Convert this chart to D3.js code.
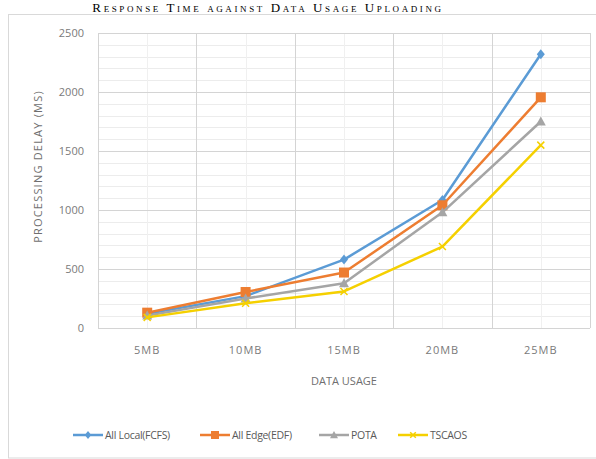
<!DOCTYPE html>
<html>
<head>
<meta charset="utf-8">
<script src="https://cdn.jsdelivr.net/npm/d3@7"></script>
<style>
  html, body { margin: 0; padding: 0; background: #fff; }
  svg { display: block; }
</style>
</head>
<body>
<svg id="chart" width="596" height="459"></svg>
<script>
// Data: processing delay (ms) for each upload size
const categories = ["5MB", "10MB", "15MB", "20MB", "25MB"];
const seriesNames = ["All Local(FCFS)", "All Edge(EDF)", "POTA", "TSCAOS"];
const fcfsValues   = [120, 270, 580, 1085, 2320];
const edfValues    = [130, 305, 470, 1040, 1955];
const potaValues   = [105, 250, 380, 980, 1750];
const tscaosValues = [90, 210, 310, 690, 1550];
const yTicks = [0, 500, 1000, 1500, 2000, 2500];

const colors = ["#5B9BD5", "#ED7D31", "#A5A5A5", "#F5D000"];
const markerTypes = ["diamond", "square", "triangle", "dash"];
const series = [fcfsValues, edfValues, potaValues, tscaosValues].map((v, i) => ({
  name: seriesNames[i], values: v, color: colors[i], marker: markerTypes[i]
}));

const svg = d3.select("#chart");
const plot = { left: 98, right: 590, top: 33, bottom: 328 };

// Chart frame
svg.append("rect")
  .attr("x", 8.5).attr("y", 14.5)
  .attr("width", 600).attr("height", 443.5)
  .attr("fill", "#fff").attr("stroke", "#d9d9d9");

// Title
svg.append("text")
  .attr("x", 268).attr("y", 12)
  .attr("text-anchor", "middle")
  .attr("font-family", "Liberation Serif, Times New Roman, serif")
  .attr("font-size", 13)
  .attr("letter-spacing", 2.6)
  .style("font-variant", "small-caps")
  .attr("fill", "#000")
  .text("Response Time against Data Usage Uploading");

const x = d3.scaleBand().domain(categories).range([plot.left, plot.right]);
const y = d3.scaleLinear().domain([0, 2500]).range([plot.bottom, plot.top]);

// Minor horizontal gridlines every 100
const grid = svg.append("g");
grid.selectAll("line.hminor")
  .data(d3.range(0, 2501, 100).filter(v => v % 500 !== 0))
  .join("line")
  .attr("x1", plot.left).attr("x2", plot.right)
  .attr("y1", d => Math.round(y(d)) + 0.5).attr("y2", d => Math.round(y(d)) + 0.5)
  .attr("stroke", "#ececec").attr("stroke-width", 1);

// Minor vertical gridlines at category centres
grid.selectAll("line.vminor")
  .data(categories)
  .join("line")
  .attr("x1", d => Math.round(x(d) + x.bandwidth() / 2) + 0.5)
  .attr("x2", d => Math.round(x(d) + x.bandwidth() / 2) + 0.5)
  .attr("y1", plot.top).attr("y2", plot.bottom)
  .attr("stroke", "#f0f0f0");

// Major horizontal gridlines
grid.selectAll("line.hmajor")
  .data(yTicks)
  .join("line")
  .attr("x1", plot.left).attr("x2", plot.right)
  .attr("y1", d => Math.round(y(d)) + 0.5).attr("y2", d => Math.round(y(d)) + 0.5)
  .attr("stroke", "#d4d4d4");

// Major vertical gridlines at category boundaries
const bounds = categories.map(c => x(c)).concat([plot.right]);
grid.selectAll("line.vmajor")
  .data(bounds)
  .join("line")
  .attr("x1", d => Math.round(d) + 0.5).attr("x2", d => Math.round(d) + 0.5)
  .attr("y1", plot.top).attr("y2", plot.bottom)
  .attr("stroke", "#d4d4d4");

// Y axis tick labels
const yAxis = d3.axisLeft(y).tickValues(yTicks).tickFormat(d3.format("d")).tickSize(0).tickPadding(14);
const gy = svg.append("g").attr("transform", `translate(${plot.left},0)`).call(yAxis);
gy.select(".domain").remove();
gy.selectAll("text")
  .attr("font-family", "Open Sans, sans-serif")
  .attr("font-size", 11)
  .attr("fill", "#7a7a7a");

// X axis tick labels
const xAxis = d3.axisBottom(x).tickSize(0).tickPadding(18);
const gx = svg.append("g").attr("transform", `translate(0,${plot.bottom})`).call(xAxis);
gx.select(".domain").remove();
gx.selectAll("text")
  .attr("font-family", "Open Sans, sans-serif")
  .attr("font-size", 11)
  .attr("letter-spacing", 1)
  .attr("fill", "#7a7a7a");

// Axis titles
svg.append("text")
  .attr("transform", `translate(42,${(plot.top + plot.bottom) / 2 - 14}) rotate(-90)`)
  .attr("text-anchor", "middle")
  .attr("font-family", "Open Sans, sans-serif")
  .attr("font-size", 11)
  .attr("letter-spacing", 1.2)
  .attr("fill", "#6f6f6f")
  .text("PROCESSING DELAY (MS)");

svg.append("text")
  .attr("x", 344).attr("y", 385)
  .attr("text-anchor", "middle")
  .attr("font-family", "Open Sans, sans-serif")
  .attr("font-size", 11)
  .attr("fill", "#6f6f6f")
  .text("DATA USAGE");

// Marker shapes
function drawMarker(g, type, color, cx, cy, s) {
  if (type === "diamond") {
    g.append("path")
      .attr("d", `M${cx},${cy - s}L${cx + s * 0.8},${cy}L${cx},${cy + s}L${cx - s * 0.8},${cy}Z`)
      .attr("fill", color);
  } else if (type === "square") {
    g.append("rect")
      .attr("x", cx - s).attr("y", cy - s)
      .attr("width", 2 * s).attr("height", 2 * s)
      .attr("fill", color);
  } else if (type === "triangle") {
    g.append("path")
      .attr("d", `M${cx},${cy - s}L${cx + s},${cy + s * 0.8}L${cx - s},${cy + s * 0.8}Z`)
      .attr("fill", color);
  } else {
    g.append("path")
      .attr("d", `M${cx - s * 0.7},${cy - s * 0.7}L${cx + s * 0.7},${cy + s * 0.7}M${cx - s * 0.7},${cy + s * 0.7}L${cx + s * 0.7},${cy - s * 0.7}`)
      .attr("stroke", color).attr("stroke-width", 1.5).attr("fill", "none");
  }
}

const line = d3.line()
  .x((d, i) => x(categories[i]) + x.bandwidth() / 2)
  .y(d => y(d));

const lines = svg.append("g");
series.forEach(s => {
  lines.append("path")
    .datum(s.values)
    .attr("d", line)
    .attr("fill", "none")
    .attr("stroke", s.color)
    .attr("stroke-width", 2.5)
    .attr("stroke-linejoin", "round");
  const mg = lines.append("g");
  s.values.forEach((v, i) => {
    drawMarker(mg, s.marker, s.color, x(categories[i]) + x.bandwidth() / 2, y(v), 5);
  });
});

// Legend
const legendItems = [
  { x0: 73, tx: 105 },
  { x0: 200, tx: 232 },
  { x0: 319, tx: 351 },
  { x0: 398, tx: 430 }
];
const legend = svg.append("g");
const ly = 435;
series.forEach((s, i) => {
  const it = legendItems[i];
  legend.append("line")
    .attr("x1", it.x0).attr("x2", it.x0 + 30)
    .attr("y1", ly).attr("y2", ly)
    .attr("stroke", s.color).attr("stroke-width", 2.5);
  drawMarker(legend, s.marker, s.color, it.x0 + 15, ly, 4);
  legend.append("text")
    .attr("x", it.tx).attr("y", ly + 4)
    .attr("font-family", "Open Sans, sans-serif")
    .attr("font-size", 10.5)
    .attr("letter-spacing", -0.3)
    .attr("fill", "#595959")
    .text(s.name);
});
</script>
</body>
</html>
